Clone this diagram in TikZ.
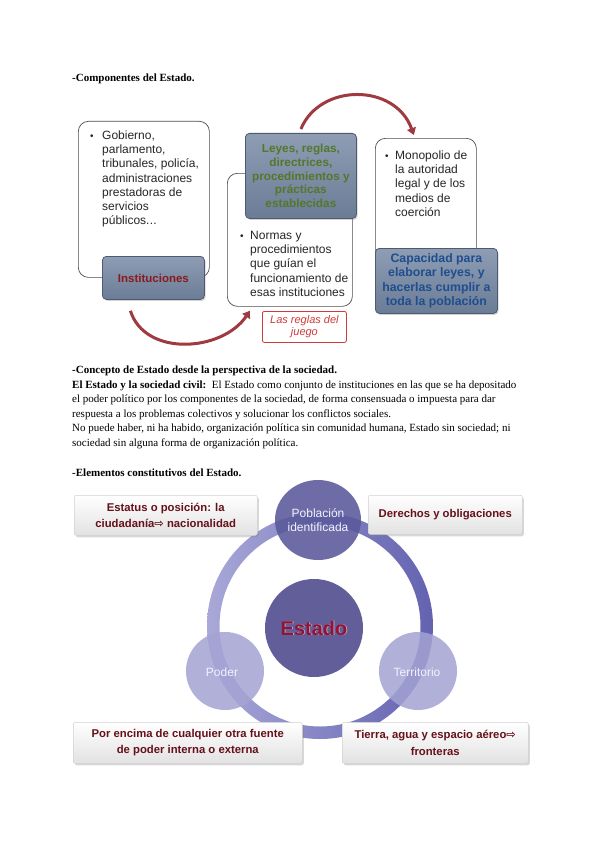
\documentclass[tikz,border=0pt]{standalone}
\usepackage{fontspec}
\setmainfont{Liberation Serif}
\setsansfont{Liberation Sans}
\newfontfamily\arrowsym{DejaVu Sans}
\usetikzlibrary{arrows.meta,shadows,calc,shapes.geometric}
\definecolor{arcred}{HTML}{9E3A40}
\definecolor{slateT}{HTML}{8E9DB4}
\definecolor{slateB}{HTML}{6B7C96}
\definecolor{slateD}{HTML}{4C5B72}
\definecolor{instred}{HTML}{8A1A1E}
\definecolor{leyesgreen}{HTML}{52782A}
\definecolor{capblue}{HTML}{1F4E8E}
\definecolor{reglasred}{HTML}{D03A3A}
\definecolor{ringL}{HTML}{A9A8D8}
\definecolor{ringR}{HTML}{6362B0}
\definecolor{pobfill}{HTML}{59589A}
\definecolor{estfill}{HTML}{615E9A}
\definecolor{lightc}{HTML}{A4A3D3}
\definecolor{estred}{HTML}{8C1538}
\definecolor{boxred}{HTML}{66101A}
\definecolor{boxgray}{HTML}{E2E2E2}
\begin{document}
\begin{tikzpicture}[x=1pt,y=-1pt,
  wbox/.style={draw=black!70, line width=0.7pt, fill=white, rounded corners=10pt, inner sep=0pt, anchor=north west},
  gbox/.style={draw=slateD, line width=0.8pt, top color=slateT, bottom color=slateB, rounded corners=4pt, inner sep=0pt, anchor=north west,
     drop shadow={opacity=0.35, shadow xshift=1.2pt, shadow yshift=-1.5pt}},
  sbox/.style={draw=black!18, line width=0.5pt, top color=white, bottom color=boxgray, rounded corners=2pt, inner sep=0pt, anchor=north west,
     drop shadow={opacity=0.3, shadow xshift=1.5pt, shadow yshift=-2pt}},
  arcarrow/.style={draw=arcred, line width=3pt, -{Triangle[length=7pt,width=9pt]}},
  linetxt/.style={anchor=base west, inner sep=0pt, font=\fontsize{12}{14.2}\selectfont\sffamily, text=black!85},
  bullettxt/.style={anchor=base west, inner sep=0pt, font=\fontsize{10}{12}\selectfont\sffamily, text=black!85},
  partxt/.style={anchor=base west, inner sep=0pt, font=\fontsize{11}{13}\selectfont},
  headtxt/.style={anchor=base west, inner sep=0pt, font=\fontsize{11}{13}\selectfont\bfseries},
  boxtxt/.style={align=center, inner sep=0pt, text=boxred, font=\fontsize{11.3}{16.5}\selectfont\sffamily\bfseries},
  circtxt/.style={align=center, inner sep=0pt, text=white!95!blue, font=\fontsize{12}{14}\selectfont\sffamily}
]
\useasboundingbox (0,0) rectangle (600,848);
\fill[white] (0,0) rectangle (600,848);

% ---------------- Componentes del Estado ----------------
\node[headtxt] (h1) at (72,81.5) {-Componentes del Estado.};

\node[wbox, minimum width=131pt, minimum height=156pt] (box1) at (78,121) {};
\node[gbox, minimum width=102pt, minimum height=43pt] (inst) at (102,256) {};
\node[font=\fontsize{11.5}{13}\selectfont\sffamily\bfseries, text=instred, inner sep=0pt] (instt) at (inst.center) {Instituciones};
\node[bullettxt] (b1) at (90,139.5) {•};
\foreach \t [count=\i] in {{Gobierno,},{parlamento,},{tribunales, policía,},{administraciones},{prestadoras de},{servicios}}
  \node[linetxt] (g\i) at (102,{139.5+14.2*(\i-1)}) {\t};
\node[linetxt] (g7) at (102,{139.5+14.2*6}) {públicos.\kern0.3pt.\kern0.3pt.};

\node[wbox, minimum width=125pt, minimum height=133pt] (box2) at (227,173) {};
\node[gbox, minimum width=111pt, minimum height=85pt] (leyes) at (245,133) {};
\node[align=center, inner sep=0pt, font=\fontsize{11.8}{13.8}\selectfont\sffamily\bfseries, text=leyesgreen] (leyest) at (leyes.center)
  {Leyes, reglas,\\directrices,\\procedimientos y\\prácticas\\establecidas};
\node[bullettxt] (b2) at (240,239.5) {•};
\foreach \t [count=\i] in {{Normas y},{procedimientos},{que guían el},{funcionamiento de},{esas instituciones}}
  \node[linetxt] (n\i) at (250,{239.5+14.2*(\i-1)}) {\t};

\node[draw=reglasred, line width=0.8pt, fill=white, rounded corners=2pt, inner sep=0pt, anchor=north west,
      minimum width=84pt, minimum height=31pt] (reglas) at (262,311) {};
\node[align=center, inner sep=0pt, font=\fontsize{11}{12.5}\selectfont\sffamily\itshape, text=reglasred] (reglast) at (reglas.center)
  {Las reglas del\\juego};

\node[wbox, minimum width=101pt, minimum height=124pt] (box3) at (375,138) {};
\node[gbox, minimum width=122pt, minimum height=65pt] (cap) at (375,248) {};
\node[align=center, inner sep=0pt, font=\fontsize{12.3}{14.3}\selectfont\sffamily\bfseries, text=capblue] (capt) at (cap.center)
  {Capacidad para\\elaborar leyes, y\\hacerlas cumplir a\\toda la población};
\node[bullettxt] (b3) at (385,159.5) {•};
\foreach \t [count=\i] in {{Monopolio de},{la autoridad},{legal y de los},{medios de},{coerción}}
  \node[linetxt] (m\i) at (395,{159.5+14.2*(\i-1)}) {\t};

\draw[arcarrow] ($(leyes.north)+(0,-4)$) .. controls (320,83) and (395,83) .. ($(box3.north)+(-12,-3)$);
\draw[arcarrow] ($(inst.south)+(-23,11)$) .. controls (145,357) and (222,352) .. ($(box2.south west)+(23,4)$);

% ---------------- Concepto de Estado ----------------
\node[headtxt] (h2) at (72,373.5) {-Concepto de Estado desde la perspectiva de la sociedad.};
\node[partxt] (p1) at (72,388) {\textbf{El Estado y la sociedad civil:}\ \ El Estado como conjunto de instituciones en las que se ha depositado};
\node[partxt] (p2) at (72,402.5) {el poder político por los componentes de la sociedad, de forma consensuada o impuesta para dar};
\node[partxt] (p3) at (72,417) {respuesta a los problemas colectivos y solucionar los conflictos sociales.};
\node[partxt] (p4) at (72,431.5) {No puede haber, ni ha habido, organización política sin comunidad humana, Estado sin sociedad; ni};
\node[partxt] (p5) at (72,446) {sociedad sin alguna forma de organización política.};

% ---------------- Elementos constitutivos ----------------
\node[headtxt] (h3) at (72,476.5) {-Elementos constitutivos del Estado.};

\coordinate (ringc) at (320,626);
\shade[left color=ringL, right color=ringR, even odd rule] (ringc) circle[radius=113pt] (ringc) circle[radius=100.5pt];

\node[circle, fill=estfill, minimum size=98pt, inner sep=0pt] (estado) at (314,628) {};
\node[font=\fontsize{20}{22}\selectfont\sffamily\bfseries, text=white!70!estred, inner sep=0pt] (estadosh) at ($(estado.center)+(0.8,0.8)$) {Estado};
\node[font=\fontsize{20}{22}\selectfont\sffamily\bfseries, text=estred, inner sep=0pt] (estadot) at (estado.center) {Estado};

\node[ellipse, fill=pobfill, fill opacity=0.88, minimum width=86pt, minimum height=80pt, inner sep=0pt] (pob) at (318,520) {};
\node[circtxt] (pobt) at (pob.center) {Población\\identificada};

\node[circle, fill=lightc, fill opacity=0.85, minimum size=78pt, inner sep=0pt] (poder) at (225,671) {};
\node[circtxt] (podert) at ($(poder.center)+(-3,1)$) {Poder};
\node[circle, fill=lightc, fill opacity=0.85, minimum size=78pt, inner sep=0pt] (terr) at (418,671) {};
\node[circtxt] (terrt) at ($(terr.center)+(-1,1)$) {Territorio};

\node[sbox, minimum width=183pt, minimum height=40pt] (estatus) at (74,495) {};
\node[boxtxt] (estatust) at (estatus.center) {Estatus o posición: la\\ciudadanía{\arrowsym ⇨} nacionalidad};
\node[sbox, minimum width=154pt, minimum height=39pt] (derechos) at (368,495) {};
\node[boxtxt] (derechost) at (derechos.center) {Derechos y obligaciones};
\node[sbox, minimum width=229pt, minimum height=41pt] (encima) at (73,722) {};
\node[boxtxt] (encimat) at (encima.center) {Por encima de cualquier otra fuente\\de poder interna o externa};
\node[sbox, minimum width=186pt, minimum height=41pt] (tierra) at (342,722) {};
\node[boxtxt] (tierrat) at (tierra.center) {Tierra, agua y espacio aéreo{\arrowsym ⇨}\\fronteras};
\end{tikzpicture}
\end{document}
